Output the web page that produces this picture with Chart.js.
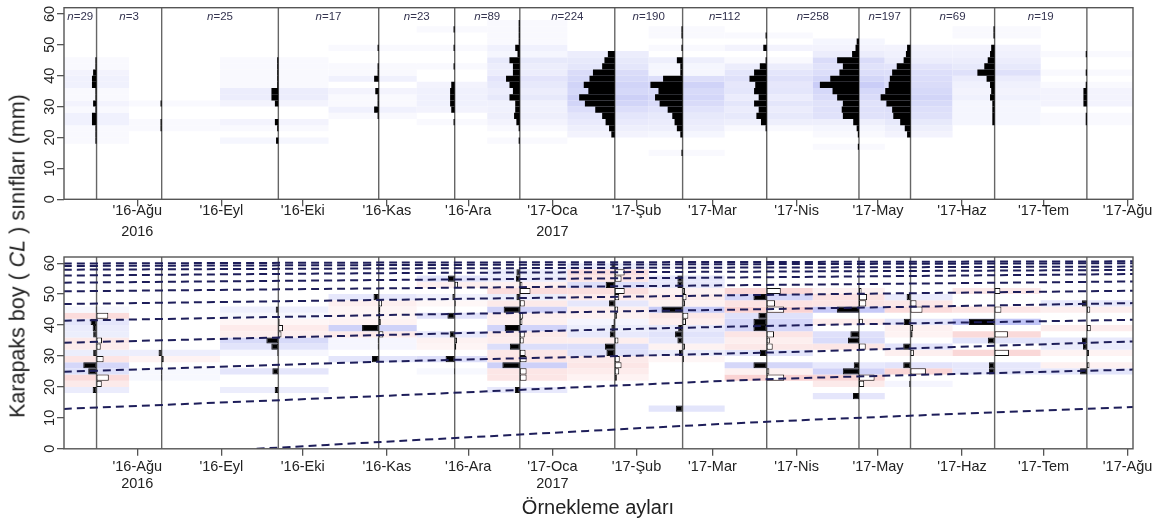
<!DOCTYPE html>
<html>
<head>
<meta charset="utf-8">
<script src="https://cdn.jsdelivr.net/npm/chart.js@4.4.0/dist/chart.umd.min.js"></script>
<style>
  body { margin: 0; background: #fff; width: 1163px; height: 520px; position: relative; overflow: hidden; font-family: "Liberation Sans", Arial, sans-serif; }
  #topChart { position: absolute; left: 0; top: 0; }
  #bottomChart { position: absolute; left: 0; top: 245px; }
  .ytitle { position: absolute; left: 18px; top: 256px; transform: translate(-50%, -50%) rotate(-90deg); white-space: nowrap; font-size: 21.5px; color: #222; }
  .xtitle { position: absolute; left: 598px; top: 507px; transform: translate(-50%, -50%); white-space: nowrap; font-size: 20px; color: #222; }
</style>
</head>
<body>
<canvas id="topChart" width="1163" height="245"></canvas>
<canvas id="bottomChart" width="1163" height="275"></canvas>
<div class="ytitle">Karapaks boy ( <i>CL</i> ) sınıfları (mm)</div>
<div class="xtitle">Örnekleme ayları</div>
<script>
// sampling dates and sample sizes
const sampleDates = ["2016-07-17", "2016-08-10", "2016-09-22", "2016-10-29", "2016-11-26", "2016-12-20",
  "2017-01-24", "2017-02-18", "2017-03-21", "2017-04-24", "2017-05-13", "2017-06-13", "2017-07-17"];
const sampleN = [29, 3, 25, 17, 23, 89, 224, 190, 112, 258, 197, 69, 19];

// 2 mm length classes (mid points)
const lengthClasses = [13, 15, 17, 19, 21, 23, 25, 27, 29, 31, 33, 35, 37, 39, 41, 43, 45, 47, 49, 51, 53, 55, 57, 59];

// catch frequencies per sample (one row per sample, columns = lengthClasses)
const catchFreq = [
  [0, 0, 0, 1, 1, 1, 4, 4, 1, 3, 1, 1, 4, 4, 3, 1, 1, 0, 0, 0, 0, 0, 0, 0],
  [0, 0, 0, 0, 0, 1, 1, 0, 0, 1, 0, 0, 0, 0, 0, 0, 0, 0, 0, 0, 0, 0, 0, 0],
  [0, 0, 0, 2, 0, 1, 3, 0, 0, 3, 6, 6, 1, 1, 1, 1, 1, 0, 0, 0, 0, 0, 0, 0],
  [0, 0, 0, 0, 0, 0, 0, 1, 4, 1, 1, 3, 0, 4, 1, 1, 0, 0, 1, 0, 0, 0, 0, 0],
  [0, 0, 0, 0, 0, 0, 1, 0, 3, 4, 4, 4, 3, 0, 0, 1, 0, 0, 1, 0, 0, 1, 0, 0],
  [0, 0, 0, 1, 0, 1, 3, 5, 4, 4, 9, 6, 9, 12, 6, 6, 9, 2, 4, 1, 1, 1, 1, 0],
  [0, 0, 0, 0, 3, 5, 8, 11, 17, 26, 31, 23, 27, 22, 19, 11, 9, 6, 0, 0, 0, 0, 0, 0],
  [0, 1, 0, 0, 2, 5, 7, 9, 13, 20, 24, 21, 28, 17, 2, 2, 5, 0, 1, 0, 1, 1, 0, 0],
  [0, 0, 0, 0, 0, 1, 5, 9, 7, 11, 7, 11, 10, 15, 11, 6, 1, 0, 3, 0, 1, 0, 0, 0],
  [0, 0, 1, 0, 1, 2, 5, 14, 15, 14, 19, 23, 34, 25, 17, 14, 19, 6, 3, 2, 0, 0, 0, 0],
  [0, 0, 0, 0, 3, 5, 9, 15, 16, 21, 26, 22, 19, 18, 16, 12, 6, 4, 3, 0, 0, 0, 0, 0],
  [0, 0, 0, 0, 0, 0, 2, 2, 2, 2, 4, 3, 4, 7, 15, 9, 6, 4, 3, 0, 1, 1, 0, 0],
  [0, 0, 0, 0, 0, 0, 1, 1, 0, 3, 3, 3, 1, 0, 1, 0, 0, 1, 0, 0, 0, 0, 0, 0]
];

// restructured scores per sample (positive = peak, negative = trough)
const restructured = [
  [0, 0, 0, 0.15, -0.2, -0.47, 0.32, 0.51, -0.27, 0.13, -0.16, -0.21, 0.13, 0.15, 0.23, -0.45, 0.03, 0, 0, 0, 0, 0, 0, 0],
  [0, 0, 0, 0, 0, 0.03, 0.03, 0, -0.08, 0.12, 0, 0, 0, 0, 0, 0, 0, 0, 0, 0, 0, 0, 0, 0],
  [0, 0, 0, 0.14, 0, 0, 0.23, 0, 0, 0.04, 0.27, 0.46, -0.12, -0.18, -0.05, 0.03, 0.1, 0, 0, 0, 0, 0, 0, 0],
  [0, 0, 0, 0, 0, 0, 0, 0, 0.26, 0, 0.04, 0.04, -0.18, 0.64, -0.08, -0.06, -0.06, -0.13, 0.2, 0, 0, 0, 0, 0],
  [0, 0, 0, 0, 0, 0, 0.03, 0, 0.35, 0, -0.06, -0.09, 0.19, 0, 0, 0.28, 0, -0.04, 0.09, 0, -0.13, 0.26, 0, 0],
  [0, 0, 0, 0.19, 0, -0.26, -0.26, 0.67, -0.26, -0.22, 0.38, -0.15, -0.19, 0.58, -0.1, -0.13, 0.62, -0.19, 0.13, -0.41, -0.1, 0.15, 0.13, 0],
  [0, 0, 0, 0, 0, -0.08, -0.17, -0.26, -0.19, 0.32, 0.38, -0.14, 0.19, 0.13, 0.05, -0.09, -0.13, 0.22, -0.17, -0.38, 0.35, -0.26, -0.38, 0.13],
  [0.26, 0, 0, 0, 0, 0, 0, 0, -0.05, 0.14, -0.09, 0.2, 0.29, 0.17, -0.13, -0.22, 0.81, -0.09, -0.15, -0.09, 0.2, 0.2, 0, 0.03],
  [0, 0, 0, 0, 0, -0.67, -0.1, 0.51, 0, 0.26, -0.23, -0.12, -0.28, 0.51, 0.51, 0.32, -0.67, -0.32, 0.51, -0.54, 0, 0, 0, 0],
  [0, 0, 0.23, 0, -0.2, -0.6, 0.62, 0.2, 0, 0, -0.26, 0.42, 0.33, 0, -0.15, 0, 0.85, -0.28, -0.31, -0.1, 0, 0, 0, 0],
  [0, 0, 0, 0, 0.05, 0, -0.59, 0.28, 0, -0.13, 0.28, 0, -0.08, -0.1, 0.26, 0, -0.46, -0.23, 0.15, 0, 0, 0, 0, 0],
  [0, 0, 0, 0, 0, 0, 0.22, 0.22, 0, -0.55, 0, 0.26, -0.51, 0, 0.99, 0, -0.26, 0, 0, -0.22, 0, 0, 0, 0],
  [0, 0, 0, 0, 0, 0, 0.26, -0.1, 0, -0.08, 0.15, 0.19, 0, -0.15, 0, 0, -0.13, 0.19, 0, 0, 0, 0, 0, 0]
];

// growth curves (cohort lengths read at four dates)
const curveDates = ["2016-07-05", "2016-11-05", "2017-03-25", "2017-08-03"];
const growthCurves = [
  [12.9, 17.3, 22.6, 25.6],
  [24.9, 28.3, 31.2, 34.7],
  [34.3, 36.9, 39.8, 41.7],
  [41.4, 43.3, 45.2, 47.1],
  [46.8, 48.2, 49.8, 51.1],
  [50.9, 51.9, 53.0, 54.1],
  [53.7, 54.6, 55.5, 56.5],
  [56.0, 56.8, 57.3, 57.8],
  [57.9, 58.3, 58.6, 58.9],
  [59.1, 59.4, 59.7, 60.0],
  [59.9, 60.2, 60.4, 60.6]
];
const youngCohortDates = ["2016-09-14", "2016-11-05", "2017-03-25", "2017-08-03"];
const youngCohort = [0, 2.5, 8.9, 13.5];

// axis ticks
const monthTicks = ["2016-08-01", "2016-09-01", "2016-10-01", "2016-11-01", "2016-12-01", "2017-01-01",
  "2017-02-01", "2017-03-01", "2017-04-01", "2017-05-01", "2017-06-01", "2017-07-01", "2017-08-01"];
const monthLabels = ["'16-Ağu", "'16-Eyl", "'16-Eki", "'16-Kas", "'16-Ara", "'17-Oca",
  "'17-Şub", "'17-Mar", "'17-Nis", "'17-May", "'17-Haz", "'17-Tem", "'17-Ağu"];
const yearLabels = ["2016", "", "", "", "", "2017", "", "", "", "", "", "", ""];
const lengthTicks = [0, 10, 20, 30, 40, 50, 60];

const origin = Date.UTC(2016, 7, 1);
const toDay = (s) => {
  const [y, m, d] = s.split("-").map(Number);
  return (Date.UTC(y, m - 1, d) - origin) / 86400000;
};

const xMin = -27;
const xMax = 367;
const yMax = 62;
const sampleDays = sampleDates.map(toDay);
const monthDays = monthTicks.map(toDay);

// column edges of the shaded cells: half way between samples
const edges = sampleDays.map((d, i) => [
  i === 0 ? xMin : (sampleDays[i - 1] + d) / 2,
  i === sampleDays.length - 1 ? xMax : (d + sampleDays[i + 1]) / 2
]);

const maxCount = Math.max(...catchFreq.flat());
const histScale = 14.4 / maxCount; // days per fish
const scoreScale = 9.6; // days per unit score

const mix = (rgb, a) => {
  const c = rgb.map((v) => Math.round(255 - (255 - v) * a));
  return `rgb(${c[0]},${c[1]},${c[2]})`;
};

// top panel data
const topShade = [];
const topBars = [];
catchFreq.forEach((row, i) => {
  row.forEach((c, j) => {
    if (!c) return;
    topShade.push({ y: lengthClasses[j], x: edges[i], v: c });
    topBars.push({ y: lengthClasses[j], x: [sampleDays[i] - c * histScale, sampleDays[i]] });
  });
});

// bottom panel data
const botShade = [];
const posBars = [];
const negBars = [];
restructured.forEach((row, i) => {
  row.forEach((s, j) => {
    if (!s) return;
    botShade.push({ y: lengthClasses[j], x: edges[i], v: s });
    if (s > 0) posBars.push({ y: lengthClasses[j], x: [sampleDays[i] - s * scoreScale, sampleDays[i]] });
    else negBars.push({ y: lengthClasses[j], x: [sampleDays[i], sampleDays[i] - s * scoreScale] });
  });
});

const vlineData = [];
sampleDays.forEach((d) => {
  vlineData.push({ x: d, y: 0 }, { x: d, y: yMax }, { x: d, y: null });
});

const curveSets = growthCurves.map((vals) => vals.map((v, k) => ({ x: toDay(curveDates[k]), y: v })));
curveSets.unshift(youngCohort.map((v, k) => ({ x: toDay(youngCohortDates[k]), y: v })));

Chart.defaults.font.family = "'Liberation Sans', Arial, sans-serif";
Chart.defaults.color = "#222";

const boxPlugin = {
  id: "box",
  afterDraw(chart) {
    const { ctx, chartArea: a } = chart;
    ctx.save();
    ctx.strokeStyle = "#555";
    ctx.lineWidth = 1.4;
    ctx.strokeRect(a.left, a.top, a.right - a.left, a.bottom - a.top);
    ctx.restore();
  }
};

const nLabelPlugin = {
  id: "nlabels",
  afterDatasetsDraw(chart) {
    const { ctx, scales } = chart;
    ctx.save();
    ctx.fillStyle = "#33334f";
    ctx.textBaseline = "middle";
    sampleDays.forEach((d, i) => {
      const left = i === 0 ? xMin : sampleDays[i - 1];
      const cx = (scales.x.getPixelForValue(left) + scales.x.getPixelForValue(d)) / 2;
      const rest = "=" + sampleN[i];
      ctx.font = "italic 11.5px 'Liberation Sans'";
      const w1 = ctx.measureText("n").width;
      ctx.font = "11.5px 'Liberation Sans'";
      const w2 = ctx.measureText(rest).width;
      const x0 = cx - (w1 + w2) / 2;
      ctx.font = "italic 11.5px 'Liberation Sans'";
      ctx.fillText("n", x0, 17);
      ctx.font = "11.5px 'Liberation Sans'";
      ctx.fillText(rest, x0 + w1, 17);
    });
    ctx.restore();
  }
};

const makeScales = (xAxisHeight, lineHeight, pad) => ({
  x: {
    type: "linear",
    min: xMin,
    max: xMax,
    offset: false,
    afterBuildTicks: (s) => { s.ticks = monthDays.map((v) => ({ value: v })); },
    afterFit: (s) => { s.height = xAxisHeight; },
    grid: { drawOnChartArea: false, drawTicks: true, tickLength: 7, color: "#555", lineWidth: 1.3, offset: false },
    border: { display: false },
    ticks: {
      autoSkip: false,
      maxRotation: 0,
      minRotation: 0,
      padding: pad,
      color: "#222",
      font: { size: 14.5, lineHeight: lineHeight },
      callback: (v, i) => (yearLabels[i] ? [monthLabels[i], yearLabels[i]] : monthLabels[i])
    }
  },
  y: {
    type: "linear",
    min: 0,
    max: yMax,
    offset: false,
    afterBuildTicks: (s) => { s.ticks = lengthTicks.map((v) => ({ value: v })); },
    afterFit: (s) => { s.width = 64; },
    grid: { drawOnChartArea: false, drawTicks: true, tickLength: 7, color: "#555", lineWidth: 1.3, offset: false },
    border: { display: false },
    ticks: { autoSkip: false, minRotation: 90, maxRotation: 90, crossAlign: "center", padding: -1, color: "#222", font: { size: 14.5 } }
  }
});

const commonOptions = (padding, scales) => ({
  responsive: false,
  animation: false,
  devicePixelRatio: 1,
  layout: { padding },
  plugins: { legend: { display: false }, tooltip: { enabled: false } },
  scales
});

const barDefaults = {
  type: "bar",
  indexAxis: "y",
  grouped: false,
  categoryPercentage: 1,
  barPercentage: 1,
  borderSkipped: false,
  inflateAmount: 0
};

new Chart(document.getElementById("topChart"), {
  type: "bar",
  data: {
    datasets: [
      {
        ...barDefaults,
        data: topShade,
        order: 5,
        borderWidth: 0,
        backgroundColor: (c) => mix([90, 100, 230], 0.32 * Math.pow(c.raw.v / maxCount, 0.6))
      },
      { type: "line", data: vlineData, order: 4, borderColor: "#666", borderWidth: 1.4, pointRadius: 0, spanGaps: false },
      { ...barDefaults, data: topBars, order: 3, borderWidth: 0, backgroundColor: "#000" }
    ]
  },
  options: commonOptions({ left: 0, right: 30, top: 7.2, bottom: 0 }, makeScales(45.7, 21 / 14.5, -6.3)),
  plugins: [boxPlugin, nLabelPlugin]
});

new Chart(document.getElementById("bottomChart"), {
  type: "bar",
  data: {
    datasets: [
      {
        ...barDefaults,
        data: botShade,
        order: 5,
        borderWidth: 0,
        backgroundColor: (c) => (c.raw.v > 0
          ? mix([80, 90, 230], 0.36 * Math.pow(c.raw.v, 0.6))
          : mix([235, 90, 90], 0.34 * Math.pow(-c.raw.v, 0.6)))
      },
      { type: "line", data: vlineData, order: 4, borderColor: "#666", borderWidth: 1.4, pointRadius: 0, spanGaps: false },
      { ...barDefaults, data: posBars, order: 3, borderWidth: 1, borderColor: "#111", backgroundColor: "#000" },
      { ...barDefaults, data: negBars, order: 3, borderWidth: 1, borderColor: "#111", backgroundColor: "#fff" },
      ...curveSets.map((pts) => ({
        type: "line",
        data: pts,
        order: 1,
        borderColor: "#1e1e5a",
        borderWidth: 2,
        borderDash: [8, 5],
        pointRadius: 0,
        tension: 0.25
      }))
    ]
  },
  options: commonOptions({ left: 0, right: 30, top: 12, bottom: 0 }, makeScales(71.2, 16.5 / 14.5, 3.2)),
  plugins: [boxPlugin]
});
</script>
</body>
</html>
